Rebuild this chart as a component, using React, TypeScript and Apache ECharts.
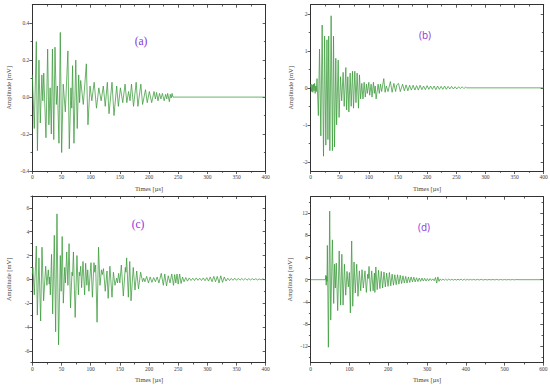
import React, { useEffect, useRef } from 'react';
import * as echarts from 'echarts';

// ---- signal data: [time µs, amplitude mV] (peaks / troughs) ----
const waveA: number[][] = [
  [0, 0.12], [3.4, -0.17], [6.9, 0.3], [8.8, -0.29], [11.4, 0.2], [13.7, -0.14], [16.4, 0.12], [18, -0.02],
  [19.6, 0.13], [23.4, -0.22], [26.3, 0.26], [28.4, -0.15], [30.6, 0.05], [32.6, -0.2], [34.5, 0.26], [36.8, -0.23],
  [38.9, 0.27], [41.2, -0.04], [43, 0.06], [45.7, -0.25], [48, 0.35], [50.3, -0.3], [53, 0.07], [56.6, -0.08],
  [61, 0.25], [63.4, -0.28], [66.2, 0.05], [67.6, -0.06], [69, 0.17], [71.4, -0.25], [74.5, 0.2], [77, -0.17],
  [79.5, 0.12], [81, -0.03], [82.9, 0.09], [87.4, -0.04], [92.6, 0.18], [95.4, -0.15], [98.9, 0.06], [102, -0.02],
  [106, 0.08], [110, -0.06], [114, 0.05], [118, -0.02], [121.7, 0.06], [125, -0.05], [128.6, 0.08], [131.5, -0.09],
  [136.6, 0.08], [140, -0.1], [144.6, 0.06], [147.5, -0.05], [151, 0.05], [155, -0.03], [159, 0.07], [162, -0.03],
  [165, 0.03], [167.5, -0.02], [170, 0.07], [173.5, -0.05], [178, 0.08], [181, -0.05], [186, 0.07], [189, -0.04],
  [194, 0.04], [197, -0.03], [200.6, 0.03], [204.6, -0.03], [208.6, 0.03], [211, -0.01], [213, 0.025], [215.4, -0.02],
  [218, 0.02], [220.5, -0.01], [223, 0.02], [226, -0.02], [228.5, 0.015], [230.5, -0.01], [232, 0.02], [234.9, -0.025],
  [236.5, 0.015], [238, -0.005], [239.5, 0.02], [241, 0], [400, 0],
];

const waveB: number[][] = [
  [0, 0.02], [1, 0.1], [2, -0.1], [3, 0.08], [4, -0.12], [5, 0.1], [6, -0.08], [7, 0.12], [8, -0.15], [9, 0.05],
  [10, -0.1], [11.2, 0.25], [13.5, -0.75], [15.5, 1.05], [17.7, -1.3], [20, 1.7], [22.3, -1.85], [24.2, 1.4],
  [26.3, -1.55], [28.2, 1.3], [29.9, -1.4], [31.2, 1.4], [33.2, -1.7], [35.4, 1.95], [37.6, -1.7], [39.5, 1.4],
  [41.2, -1.6], [43.4, 0.8], [44.8, -1.0], [47.5, 0.75], [49, -0.8], [51.5, 0.3], [53.5, -0.35], [56, 0.42],
  [57.8, -0.5], [60.6, 0.55], [62, -0.6], [64, 0.3], [65.8, -0.65], [68, 0.4], [69.8, -0.5], [72, 0.45],
  [73.8, -0.55], [76, 0.45], [78, -0.4], [80, 0.4], [82.3, -0.55], [84, 0.35], [86, -0.3], [88, 0.12],
  [90, -0.3], [92, 0.15], [94, -0.25], [96, 0.1], [97.5, -0.15], [100, 0.15], [101.5, -0.2], [104, 0.1],
  [105.5, -0.25], [108, 0.15], [109.5, -0.15], [111, 0.05], [112.5, -0.3], [116, 0.1], [118, -0.15], [120, 0.1],
  [122, -0.1], [125.7, 0.25], [128, -0.12], [130, 0.05], [133, -0.1], [137, 0.17], [140, -0.12], [143, 0.12],
  [146, -0.1], [148, 0.08], [151, 0.12], [154, -0.1], [158, 0.1], [161, -0.08], [164, 0.08], [167, -0.08],
  [170, 0.07], [173, -0.06], [176, 0.07], [179, -0.06], [182, 0.06], [185, -0.06], [188, 0.07], [191, -0.05],
  [194, 0.05], [197, -0.05], [200, 0.06], [203, -0.04], [206, 0.05], [209, -0.04], [212, 0.05], [215, -0.05],
  [218, 0.05], [221, -0.04], [224, 0.04], [227, -0.04], [230, 0.05], [233, -0.04], [236, 0.04], [239, -0.03],
  [242, 0.04], [245, -0.03], [248, 0.03], [251, -0.03], [254, 0.03], [257, -0.02], [260, 0.03], [263, -0.02],
  [266, 0.02], [268, 0], [400, 0],
];

const waveC: number[][] = [
  [0, 0.4], [1, 1.0], [3.4, -1.3], [6.9, 2.8], [8.6, -3.0], [11.4, 1.8], [14.3, -3.5], [16.6, 2.7], [19.4, -1.8],
  [22.9, 1.1], [25, -0.5], [27.4, 0.8], [29, -0.4], [29.8, 0.2], [30.9, -1.3], [33, 2.1], [34.9, -2.9], [37.7, 3.7],
  [40, -4.4], [42.3, 5.5], [45, -5.5], [48, 2.0], [49.5, -1.0], [51.2, 3.6], [53.2, -2.0], [55.5, 1.0], [56.8, -0.3],
  [59, 2.3], [61, -0.5], [63, 3.0], [65.5, -2.4], [68, 0.6], [69, 0.3], [70.5, 2.3], [73.5, -3.2], [76.5, 2.0],
  [79, -1.3], [80.5, 0.6], [81.5, 0.3], [83, 1.1], [84.5, -0.7], [86.9, 1.5], [89.7, -1.3], [91.4, 1.35], [93.5, -0.5],
  [95, 0.8], [97, -1.0], [100.6, 1.4], [103, -1.5], [105.7, 1.4], [107, 0.6], [108.6, 1.2], [111, -3.6], [113.5, 2.7],
  [116, -0.5], [118.5, 0.8], [120, 0.4], [122, 0.9], [125, -1.0], [128, 0.7], [130, -1.6], [133, 1.1], [136.6, -1.5],
  [139, 0.6], [141.7, -0.5], [144.6, 0.1], [146, -0.3], [148, 0.5], [150, -0.3], [152.6, 1.2], [156, -1.4],
  [159.4, 1.0], [160.5, 0.6], [161.7, 1.8], [164.6, -1.5], [167, 1.5], [169.2, -1.8], [173, 1.0], [176, -0.9],
  [178.9, 0.7], [182, -0.8], [185.7, 0.6], [189, -0.2], [191, 0.1], [193, -0.2], [196, 0.25], [199, -0.3], [202, 0.2],
  [205, -0.25], [208, 0.15], [211, -0.2], [214, 0.2], [217, -0.3], [221, 0.5], [224.6, -0.5], [227, 0.45], [230, -0.55],
  [233, 0.3], [236, -0.3], [239, 0.45], [242, -0.5], [244, 0.4], [246, -0.3], [248, 0.45], [250, -0.4], [252.5, 0.45],
  [255, -0.35], [257.5, 0.2], [260, -0.2], [263, 0.15], [266, -0.15], [269, 0.12], [272, -0.1], [275, 0.1], [278, -0.1],
  [281, 0.12], [284, -0.08], [287, 0.1], [290, -0.1], [293, 0.12], [296, -0.12], [299, 0.15], [302, -0.15], [305, 0.2],
  [308, -0.2], [311, 0.25], [314, -0.2], [317, 0.25], [320, -0.3], [323, 0.3], [326, -0.25], [329, 0.2], [332, -0.15],
  [335, 0.1], [338, -0.1], [341, 0.08], [344, -0.08], [347, 0.1], [350, -0.08], [353, 0.08], [356, -0.07], [359, 0.07],
  [362, -0.06], [365, 0.08], [368, -0.07], [371, 0.06], [374, -0.05], [377, 0.06], [380, -0.05], [383, 0.06],
  [386, -0.05], [389, 0.04], [392, -0.05], [395, 0.04], [398, -0.03], [400, 0],
];

const waveD: number[][] = [
  [0, 0], [38, 0], [39, 0.8], [40, -1.0], [41, 0.6], [42, -0.3], [43, 6.2], [45.6, -12.2], [49, 12.4], [51.6, -7.3],
  [55.9, 7.2], [59.3, -4.3], [61.5, 2.8], [63.5, -1.5], [66, 3.0], [69.6, -5.6], [73.5, 5.2], [77.2, -4.6], [80.3, 4.6],
  [83.5, -4.6], [87, 2.8], [90.3, -2.8], [93.7, 1.5], [97, -1.3], [99.8, 1.3], [102.3, -6.0], [105.7, 7.0],
  [108.5, -4.8], [111.8, 3.2], [115, -2.4], [118.7, 2.8], [122, -3.0], [125.5, 1.6], [129, -2.0], [132.4, 1.8],
  [135.8, -1.5], [140, 1.6], [143.6, -2.3], [147, 1.0], [148.5, 0.2], [150.5, 2.4], [154, -2.1], [157.4, 1.6],
  [161, -2.0], [164.3, 1.2], [165.5, -2.3], [168, 2.3], [171.5, -1.8], [175, 1.7], [178.5, -1.6], [182, 1.5],
  [185.5, -1.5], [189, 1.4], [192.5, -1.3], [196, 1.2], [199.5, -1.2], [203, 1.3], [206.5, -1.1], [210, 1.0],
  [213.5, -1.0], [217, 0.9], [220.5, -0.9], [224, 0.9], [227.5, -0.8], [231, 0.8], [234.5, -0.7], [238, 0.7],
  [241.5, -0.6], [245, 0.6], [248.5, -0.6], [252, 0.5], [255.5, -0.5], [259, 0.5], [262.5, -0.4], [266, 0.45],
  [269.5, -0.4], [273, 0.35], [276.5, -0.35], [280, 0.3], [283.5, -0.3], [287, 0.3], [290.5, -0.25], [294, 0.25],
  [297.5, -0.25], [301, 0.2], [304.5, -0.2], [308, 0.2], [311.5, -0.15], [315, 0.15], [318.5, -0.2], [322, 0.4],
  [325, -0.6], [328, 0.5], [331, -0.3], [334, 0.15], [337.5, -0.12], [341, 0.12], [344.5, -0.1], [348, 0.1],
  [352, -0.1], [356, 0.1], [360, -0.08], [364, 0.08], [368, -0.08], [372, 0.07], [376, -0.07], [380, 0.08],
  [384, -0.07], [388, 0.1], [392, -0.1], [396, 0.1], [400, -0.08], [404, 0.07], [408, -0.06], [412, 0.06],
  [416, -0.06], [420, 0.05], [425, -0.05], [430, 0.05], [435, -0.05], [440, 0.06], [445, -0.06], [450, 0.05],
  [455, -0.05], [460, 0.04], [465, -0.04], [470, 0.04], [475, -0.04], [480, 0.05], [485, -0.05], [490, 0.04],
  [495, -0.04], [500, 0.03], [505, -0.03], [510, 0.03], [515, -0.03], [520, 0.03], [525, -0.03], [530, 0.02],
  [540, 0], [600, 0],
];

// ---- tick values ----
const xMajor400 = [0, 50, 100, 150, 200, 250, 300, 350, 400];
const xMinor400 = [25, 75, 125, 175, 225, 275, 325, 375];
const xMajor600 = [0, 100, 200, 300, 400, 500, 600];
const xMinor600 = [50, 150, 250, 350, 450, 550];
const yMajorA = [-0.4, -0.2, 0, 0.2, 0.4];
const yMinorA = [-0.3, -0.1, 0.1, 0.3];
const yMajorB = [-2, -1, 0, 1, 2];
const yMinorB = [-1.5, -0.5, 0.5, 1.5];
const yMajorC = [-6, -4, -2, 0, 2, 4, 6];
const yMinorC = [-7, -5, -3, -1, 1, 3, 5, 7];
const yMajorD = [-12, -8, -4, 0, 4, 8, 12];
const yMinorD = [-14, -10, -6, -2, 2, 6, 10, 14];
const panelTags = ['(a)', '(b)', '(c)', '(d)'];

const AXIS = '#333333';
const LBL = '#444444';
const SERIF = 'Liberation Serif';
const SANS = 'Open Sans';
const GREEN = '#3a9a3a';
const TAG_COLOR = '#8a35d8';

export default function App() {
  const ref = useRef<HTMLDivElement>(null);

  useEffect(() => {
    document.body.style.margin = '0';
    if (!ref.current) return;
    const chart = echarts.init(ref.current, null, { renderer: 'svg' });

    const panels = [
      { data: waveA, xMax: 400, xMajor: xMajor400, xMinor: xMinor400, yMin: -0.4, yMax: 0.5, yMajor: yMajorA, yMinor: yMinorA,
        fmt: (v: number) => v.toFixed(1), left: 32.3, top: 4.7, width: 233.4, height: 166.3, yNameGap: 20, xNameGap: 14,
        tagX: 141, tagY: 41, tagFont: SERIF, tagSize: 11.5 },
      { data: waveB, xMax: 400, xMajor: xMajor400, xMinor: xMinor400, yMin: -2.25, yMax: 2.25, yMajor: yMajorB, yMinor: yMinorB,
        fmt: (v: number) => String(v), left: 310.5, top: 4.7, width: 233.2, height: 166.3, yNameGap: 17, xNameGap: 14,
        tagX: 425, tagY: 35, tagFont: SANS, tagSize: 10 },
      { data: waveC, xMax: 400, xMajor: xMajor400, xMinor: xMinor400, yMin: -7, yMax: 7, yMajor: yMajorC, yMinor: yMinorC,
        fmt: (v: number) => String(v), left: 32.3, top: 196, width: 233.4, height: 166.7, yNameGap: 20, xNameGap: 13,
        tagX: 138, tagY: 224, tagFont: SERIF, tagSize: 11.5 },
      { data: waveD, xMax: 600, xMajor: xMajor600, xMinor: xMinor600, yMin: -15, yMax: 15, yMajor: yMajorD, yMinor: yMinorD,
        fmt: (v: number) => String(v), left: 310.7, top: 196.7, width: 232.6, height: 166, yNameGap: 18, xNameGap: 13,
        tagX: 424, tagY: 227, tagFont: SANS, tagSize: 10 },
    ];

    const grids: any[] = [];
    const xAxes: any[] = [];
    const yAxes: any[] = [];
    const series: any[] = [];
    const graphics: any[] = [];

    panels.forEach((p, g) => {
      grids.push({ left: p.left, top: p.top, width: p.width, height: p.height, containLabel: false, outerBoundsMode: 'none' });
      (['bottom', 'top'] as const).forEach((pos) => {
        [true, false].forEach((major) => {
          const main = major && pos === 'bottom';
          xAxes.push({
            type: 'value', gridIndex: g, position: pos, min: 0, max: p.xMax,
            axisLine: { show: major, onZero: false, lineStyle: { color: AXIS, width: 1 } },
            axisTick: { show: true, inside: pos === 'top', length: major ? 3 : 1.8,
              customValues: major ? p.xMajor : p.xMinor, lineStyle: { color: AXIS, width: 0.8 } },
            axisLabel: { show: main, customValues: p.xMajor, fontSize: 5.5, color: LBL, fontFamily: SERIF, margin: 3 },
            splitLine: { show: false },
            name: main ? 'Times [µs]' : '',
            nameLocation: 'middle', nameGap: p.xNameGap,
            nameTextStyle: { fontSize: 6.5, color: LBL, fontFamily: SERIF },
          });
        });
      });
      (['left', 'right'] as const).forEach((pos) => {
        [true, false].forEach((major) => {
          const main = major && pos === 'left';
          yAxes.push({
            type: 'value', gridIndex: g, position: pos, min: p.yMin, max: p.yMax,
            axisLine: { show: major, onZero: false, lineStyle: { color: AXIS, width: 1 } },
            axisTick: { show: true, inside: pos === 'right', length: major ? 3 : 1.8,
              customValues: major ? p.yMajor : p.yMinor, lineStyle: { color: AXIS, width: 0.8 } },
            axisLabel: { show: main, customValues: p.yMajor, fontSize: 5.5, color: LBL, fontFamily: SERIF, margin: 3,
              formatter: (v: number) => p.fmt(v) },
            splitLine: { show: false },
            name: main ? 'Amplitude [mV]' : '',
            nameLocation: 'middle', nameGap: p.yNameGap, nameRotate: 90,
            nameTextStyle: { fontSize: 6.5, color: LBL, fontFamily: SERIF },
          });
        });
      });
      series.push({
        type: 'line', xAxisIndex: g * 4, yAxisIndex: g * 4, data: p.data,
        showSymbol: false, symbol: 'none',
        lineStyle: { color: GREEN, width: 0.75 }, itemStyle: { color: GREEN },
      });
      graphics.push({
        type: 'text', x: p.tagX, y: p.tagY,
        style: { text: panelTags[g], fill: TAG_COLOR, fontSize: p.tagSize, fontFamily: p.tagFont,
          textAlign: 'center', textVerticalAlign: 'middle' },
      });
    });

    chart.setOption({
      animation: false,
      backgroundColor: '#ffffff',
      grid: grids,
      xAxis: xAxes,
      yAxis: yAxes,
      series,
      graphic: graphics,
    });

    return () => chart.dispose();
  }, []);

  return <div ref={ref} style={{ width: 550, height: 389 }} />;
}
